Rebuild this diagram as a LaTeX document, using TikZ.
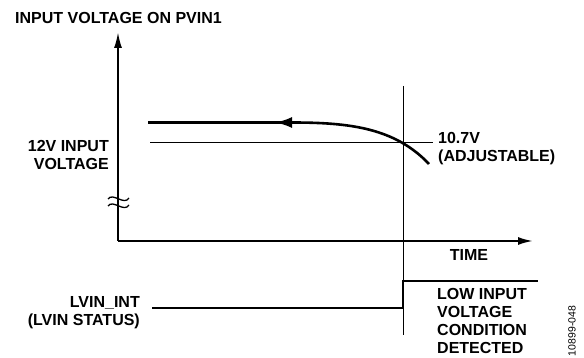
\documentclass[tikz,border=0pt]{standalone}
\usepackage{fontspec}
\setmainfont{Liberation Sans}
\usetikzlibrary{arrows.meta}
\tikzset{
  lbl/.style={font=\fontsize{16}{18}\selectfont\bfseries, inner sep=0pt},
  axisline/.style={line width=2pt},
  sigline/.style={line width=2.6pt},
  thinline/.style={line width=1pt},
}
\begin{document}
\begin{tikzpicture}[x=1pt, y=-1pt]
    \useasboundingbox (0,0) rectangle (584,358);

    % Axes
    \coordinate (origin) at (118,241);
    \coordinate (ytop) at (118,32);
    \coordinate (xend) at (533,241);
    \draw[axisline, -{Latex[length=16pt,width=8pt]}] (origin) -- (ytop);
    \draw[axisline, -{Latex[length=15pt,width=8pt]}] (origin) -- (xend);
    \node[lbl, anchor=base west] (title) at (15,23.3) {INPUT VOLTAGE ON PVIN1};
    \node[lbl] (time) at (469,254.5) {TIME};

    % Axis break
    \foreach \y in {198,205} {
        \draw[line width=1.3pt] (108,\y+1) .. controls (113,\y-6) and (124,\y+8) .. (129,\y);
    }

    % Input voltage falling
    \coordinate (vleft) at (148,122.5);
    \coordinate (vbend) at (292,122.5);
    \coordinate (vtip) at (275,122.5);
    \coordinate (vlow) at (429,164);
    \draw[sigline] (vlow) .. controls (395,128) and (350,122.5) .. (vbend) -- (vleft);
    \draw[sigline, -{Latex[length=17pt,width=11pt]}] (vbend) -- (vtip);
    \node[lbl, align=right, anchor=east] (vin) at (109,155) {12V INPUT\\VOLTAGE};

    % Threshold
    \coordinate (thleft) at (150,143);
    \coordinate (thright) at (433,143);
    \draw[thinline] (thleft) -- (thright);
    \node[lbl, align=left, anchor=west] (thr) at (438,149) {10.7V\\(ADJUSTABLE)};

    % Detection instant
    \coordinate (mtop) at (403,86);
    \coordinate (mbot) at (403,335);
    \draw[thinline] (mtop) -- (mbot);

    % LVIN status
    \coordinate (sleft) at (152,308);
    \coordinate (sright) at (538,281);
    \draw[sigline] (sleft) -- (403,308) -- (403,281) -- (sright);
    \node[lbl, align=right, anchor=east] (lvin) at (140,313) {LVIN\_INT\\(LVIN STATUS)};
    \node[lbl, align=left, anchor=west] (cond) at (437,321) {LOW INPUT\\VOLTAGE\\CONDITION\\DETECTED};

    \node[font=\fontsize{10.5}{12}\selectfont, rotate=90, inner sep=0pt] (fig) at (572,331) {10899-048};
\end{tikzpicture}
\end{document}
